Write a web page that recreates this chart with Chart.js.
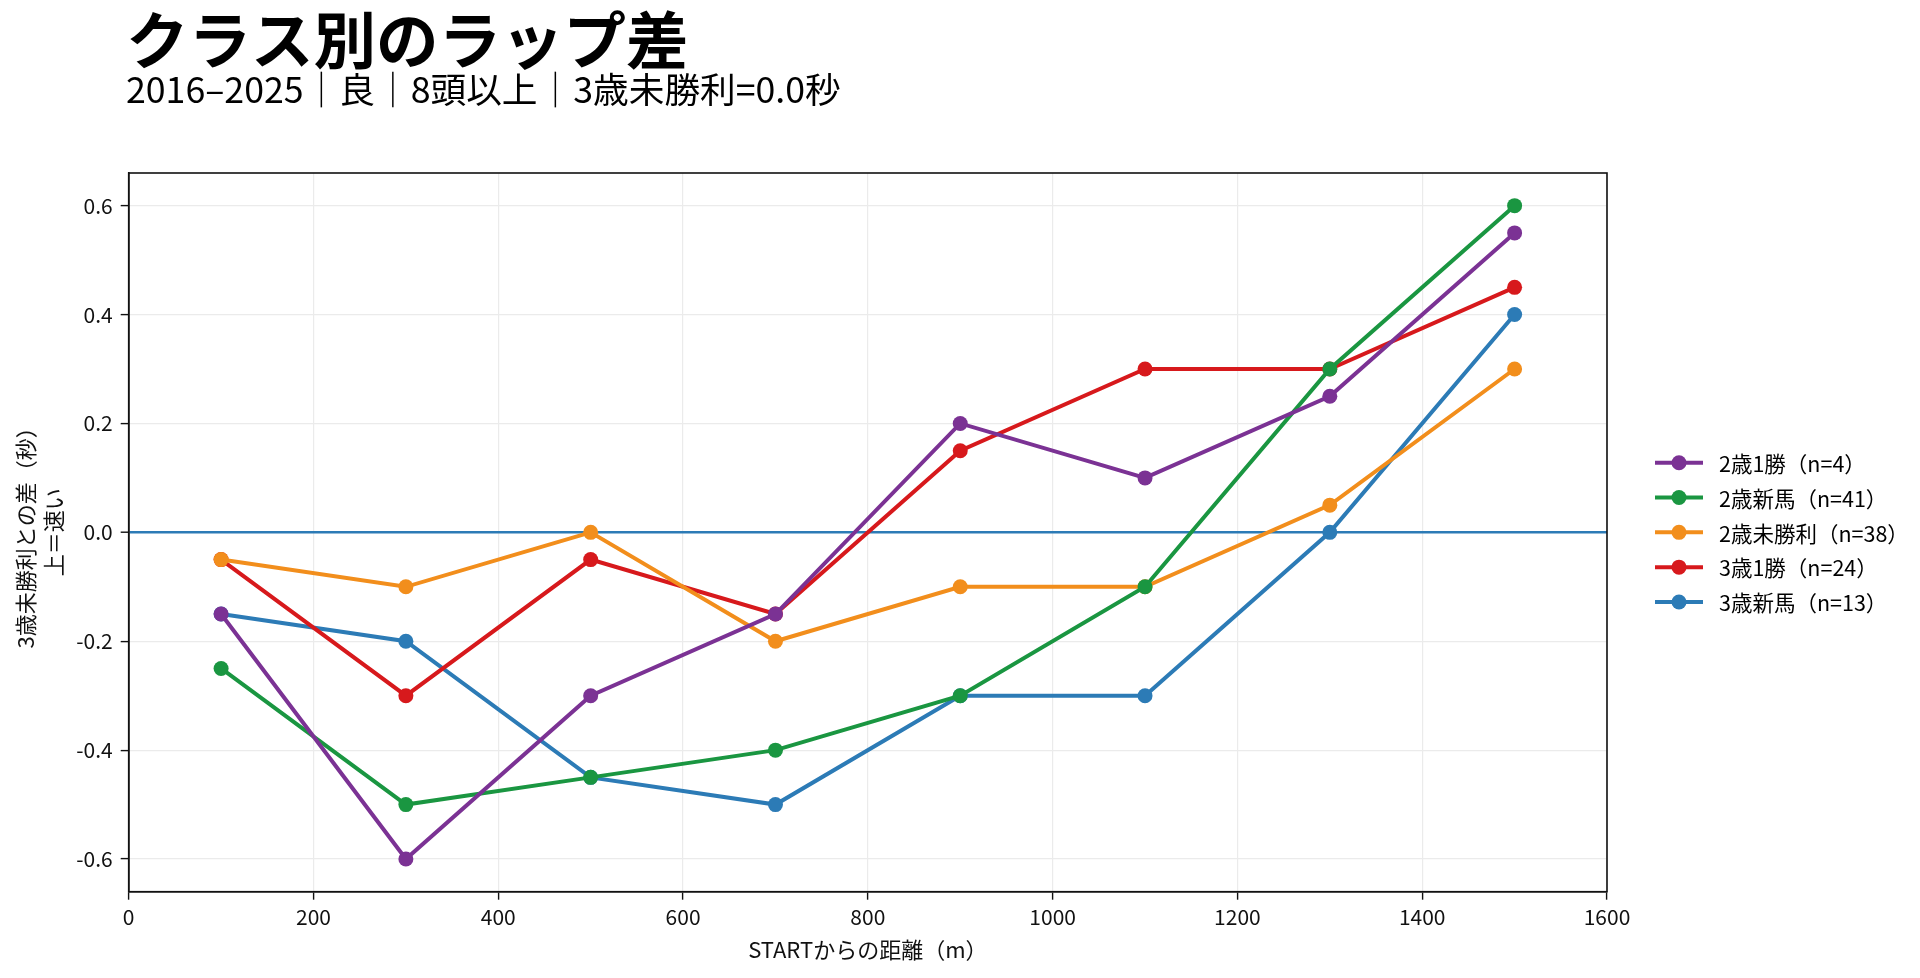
<!DOCTYPE html>
<html>
<head>
<meta charset="utf-8">
<script src="https://cdn.jsdelivr.net/npm/chart.js@4.4.1/dist/chart.umd.min.js"></script>
<style>
  html, body { margin: 0; padding: 0; background: #ffffff; }
  #wrap { width: 1920px; height: 978px; }
</style>
</head>
<body>
<div id="wrap"><canvas id="c" width="1920" height="978"></canvas></div>
<script>
// ---- data ----
const titleText = 'クラス別のラップ差';
const subtitleText = '2016–2025｜良｜8頭以上｜3歳未勝利=0.0秒';
const xAxisLabel = 'STARTからの距離（m）';
const yAxisLabel = ['3歳未勝利との差（秒）', '上＝速い'];

const distances = [100, 300, 500, 700, 900, 1100, 1300, 1500];

const seriesNames = ['2歳1勝（n=4）', '2歳新馬（n=41）', '2歳未勝利（n=38）', '3歳1勝（n=24）', '3歳新馬（n=13）'];
const s2sai1sho   = [-0.15, -0.60, -0.30, -0.15, 0.20, 0.10, 0.25, 0.55];
const s2saiShinba = [-0.25, -0.50, -0.45, -0.40, -0.30, -0.10, 0.30, 0.60];
const s2saiMisho  = [-0.05, -0.10, 0.00, -0.20, -0.10, -0.10, 0.05, 0.30];
const s3sai1sho   = [-0.05, -0.30, -0.05, -0.15, 0.15, 0.30, 0.30, 0.45];
const s3saiShinba = [-0.15, -0.20, -0.45, -0.50, -0.30, -0.30, 0.00, 0.40];
const seriesValues = [s2sai1sho, s2saiShinba, s2saiMisho, s3sai1sho, s3saiShinba];
const seriesColors = ['#7b3294', '#1a9641', '#f28e1c', '#d7191c', '#2c7bb6'];

const xTicks = [0, 200, 400, 600, 800, 1000, 1200, 1400, 1600];
const yTicks = [-0.6, -0.4, -0.2, 0.0, 0.2, 0.4, 0.6];
const xMin = 0, xMax = 1600, yMin = -0.66, yMax = 0.66;
const referenceValue = 0.0;
const referenceColor = '#2c7bb6';

// ---- chart ----
const FONT = '"Noto Sans CJK JP", "Noto Sans", sans-serif';
const LINE_W = 4.0;

const datasets = seriesNames.map((name, i) => ({
  label: name,
  data: distances.map((d, j) => ({ x: d, y: seriesValues[i][j] })),
  borderColor: seriesColors[i],
  backgroundColor: seriesColors[i],
  borderWidth: LINE_W,
  pointRadius: 7.5,
  pointHoverRadius: 7.5,
  pointBorderWidth: 0,
  tension: 0,
  fill: false
}));

const framePlugin = {
  id: 'frame',
  afterDatasetsDraw(chart) {
    const { ctx, chartArea: a } = chart;
    ctx.save();
    ctx.strokeStyle = '#111111';
    ctx.lineWidth = 1.6;
    ctx.strokeRect(a.left, a.top, a.right - a.left, a.bottom - a.top);
    ctx.restore();
  }
};

const headerPlugin = {
  id: 'header',
  afterDraw(chart) {
    const { ctx } = chart;
    ctx.save();
    ctx.fillStyle = '#000000';
    ctx.textAlign = 'left';
    ctx.textBaseline = 'alphabetic';
    ctx.font = 'bold 62.5px ' + FONT;
    ctx.fillText(titleText, 126, 64);
    ctx.font = '35.7px ' + FONT;
    ctx.fillText(subtitleText, 126, 103);
    ctx.restore();
  }
};

const legendPlugin = {
  id: 'sideLegend',
  afterDraw(chart) {
    const { ctx, chartArea: a } = chart;
    const n = chart.data.datasets.length;
    const rowH = 34.8;
    const cy = (a.top + a.bottom) / 2;
    const x0 = a.right + 48;
    ctx.save();
    ctx.font = '21.5px ' + FONT;
    ctx.textBaseline = 'middle';
    ctx.textAlign = 'left';
    chart.data.datasets.forEach((ds, i) => {
      const y = cy + (i - (n - 1) / 2) * rowH;
      ctx.strokeStyle = ds.borderColor;
      ctx.lineWidth = LINE_W;
      ctx.beginPath();
      ctx.moveTo(x0, y);
      ctx.lineTo(x0 + 48, y);
      ctx.stroke();
      ctx.fillStyle = ds.backgroundColor;
      ctx.beginPath();
      ctx.arc(x0 + 24, y, 7.5, 0, Math.PI * 2);
      ctx.fill();
      ctx.fillStyle = '#000000';
      ctx.fillText(ds.label, x0 + 64, y + 1);
    });
    ctx.restore();
  }
};

new Chart(document.getElementById('c'), {
  type: 'line',
  data: { datasets },
  options: {
    responsive: false,
    animation: false,
    devicePixelRatio: 1,
    layout: { padding: { top: 173, right: 313, bottom: 0, left: 0 } },
    plugins: {
      legend: { display: false },
      title: { display: false },
      tooltip: { enabled: false }
    },
    scales: {
      x: {
        type: 'linear',
        min: xMin,
        max: xMax,
        afterBuildTicks: s => { s.ticks = xTicks.map(v => ({ value: v })); },
        afterFit: s => { s.height = 86.3; },
        grid: {
          color: '#ebebeb',
          lineWidth: 1.2,
          drawTicks: true,
          tickLength: 8,
          tickColor: '#111111',
          tickWidth: 1.4
        },
        border: { display: true, color: '#111111', width: 1.6 },
        ticks: {
          color: '#111111',
          font: { family: FONT, size: 21 },
          padding: 5,
          maxRotation: 0,
          callback: v => String(v)
        },
        title: {
          display: true,
          text: xAxisLabel,
          color: '#111111',
          font: { family: FONT, size: 22 },
          padding: { top: 4, bottom: 15 }
        }
      },
      y: {
        type: 'linear',
        min: yMin,
        max: yMax,
        afterBuildTicks: s => { s.ticks = yTicks.map(v => ({ value: v })); },
        afterFit: s => { s.width = 128.7; },
        grid: {
          color: c => (c.tick && Math.abs(c.tick.value - referenceValue) < 1e-9) ? referenceColor : '#ebebeb',
          lineWidth: c => (c.tick && Math.abs(c.tick.value - referenceValue) < 1e-9) ? 2.4 : 1.2,
          drawTicks: true,
          tickLength: 8,
          tickColor: '#111111',
          tickWidth: 1.4
        },
        border: { display: true, color: '#111111', width: 1.6 },
        ticks: {
          color: '#111111',
          font: { family: FONT, size: 21 },
          padding: 8,
          callback: v => Number(v).toFixed(1)
        },
        title: {
          display: true,
          text: yAxisLabel,
          color: '#111111',
          font: { family: FONT, size: 22, lineHeight: 1.3 },
          padding: { top: 11, bottom: 4 }
        }
      }
    }
  },
  plugins: [framePlugin, headerPlugin, legendPlugin]
});
</script>
</body>
</html>
